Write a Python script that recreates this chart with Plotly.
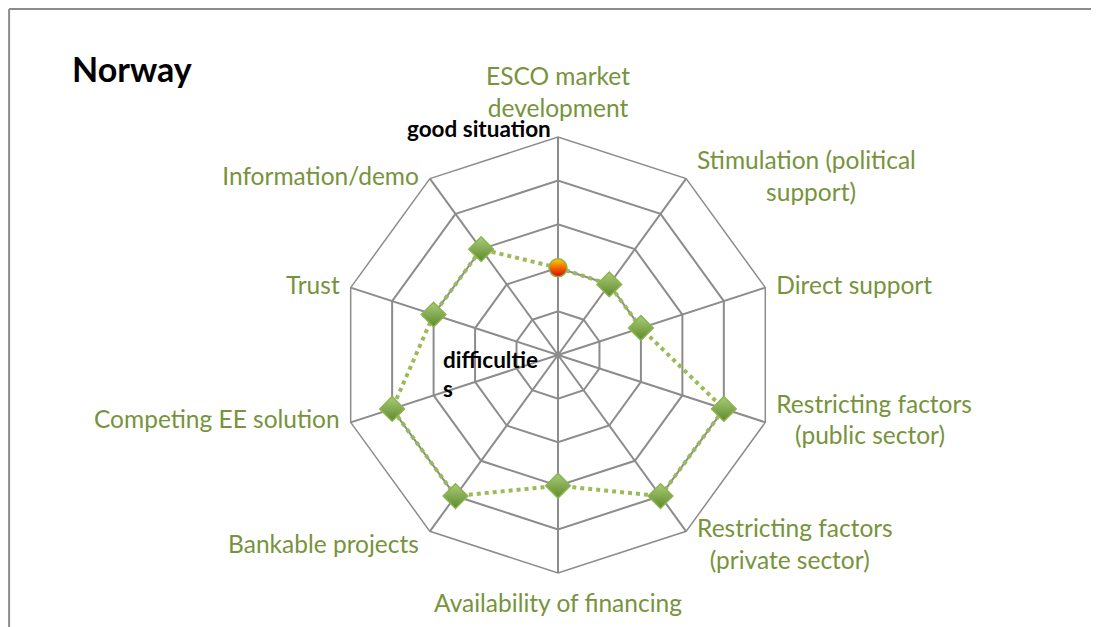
import plotly.graph_objects as go

NB = '\u00a0'

# axes of the radar, clockwise from the top
categories = [
    'ESCO market development',
    'Stimulation (political support)',
    'Direct support',
    'Restricting factors (public sector)',
    'Restricting factors (private sector)',
    'Availability of financing',
    'Bankable projects',
    'Competing EE solution',
    'Trust',
    'Information/demo',
]
# the labels as wrapped in the original chart
axis_labels = [
    'ESCO market<br>development',
    'Stimulation (political<br>' + NB * 11 + 'support)',
    'Direct support',
    'Restricting factors<br>' + NB * 3 + '(public sector)',
    '<br>Restricting factors<br>' + NB * 2 + '(private sector)',
    'Availability of financing',
    '<br>Bankable projects',
    'Competing EE solution',
    'Trust',
    'Information/demo',
]
scores = [2, 2, 2, 4, 4, 3, 4, 4, 3, 3]
r_max = 5

GREEN_TEXT = '#77933C'
GRID = '#8C8C8C'
FONT = 'Lato, Open Sans, sans-serif'

# first point is highlighted as a red/orange ball, the rest green diamonds
symbols = ['circle'] + ['diamond'] * (len(scores) - 1)
colors = ['#FFD000'] + ['#A9CC7A'] * (len(scores) - 1)
grad_colors = ['#E00000'] + ['#5E8A2A'] * (len(scores) - 1)
sizes = [18] + [19] * (len(scores) - 1)

# label placement around the outer ring; the invisible marker size sets the gap
label_pos = ['top center', 'middle right', 'middle right', 'middle right', 'middle right',
             'bottom center', 'middle left', 'middle left', 'middle left', 'middle left']
label_gap = [21, 16, 16, 16, 16, 32, 16, 16, 16, 16]

fig = go.Figure()

# dotted line, closed back to the first axis
fig.add_trace(go.Scatterpolar(
    r=scores + scores[:1],
    theta=categories + categories[:1],
    mode='lines',
    line=dict(color='#9BBB59', width=4, dash='dot'),
    hoverinfo='skip',
))
fig.add_trace(go.Scatterpolar(
    r=scores,
    theta=categories,
    mode='markers',
    marker=dict(
        symbol=symbols,
        size=sizes,
        color=colors,
        opacity=1,
        gradient=dict(type='vertical', color=grad_colors),
        line=dict(color='#8DB34E', width=1.5),
    ),
))

# category labels at the outer ring
fig.add_trace(go.Scatterpolar(
    r=[r_max] * len(categories),
    theta=categories,
    mode='markers+text',
    text=axis_labels,
    textposition=label_pos,
    textfont=dict(size=24.5, color=GREEN_TEXT, family=FONT),
    marker=dict(size=label_gap, opacity=0),
    cliponaxis=False,
    hoverinfo='skip',
))

fig.update_layout(
    width=1099,
    height=627,
    margin=dict(l=0, r=0, t=0, b=0),
    paper_bgcolor='white',
    plot_bgcolor='white',
    showlegend=False,
    font=dict(family=FONT),
    polar=dict(
        domain=dict(x=[0.3021, 0.6988], y=[0.0989, 0.7943]),
        gridshape='linear',
        bgcolor='white',
        radialaxis=dict(
            range=[0, r_max], dtick=1, showticklabels=False, ticks='',
            showline=False, gridcolor=GRID, gridwidth=1.5,
        ),
        angularaxis=dict(
            rotation=90, direction='clockwise',
            showline=True, linecolor=GRID, linewidth=1.5,
            gridcolor=GRID, gridwidth=1.5, ticks='', showticklabels=False,
        ),
    ),
)

# title and axis-end notes
fig.add_annotation(x=0.0564, y=0.9043, xref='paper', yref='paper', text='<b>Norway</b>',
                   showarrow=False, xanchor='left', yanchor='middle',
                   font=dict(size=34, color='black', family=FONT))
fig.add_annotation(x=0.3612, y=0.8086, xref='paper', yref='paper', text='<b>good situation</b>',
                   showarrow=False, xanchor='left', yanchor='middle',
                   font=dict(size=22.5, color='black', family=FONT))
fig.add_annotation(x=0.394, y=0.4163, xref='paper', yref='paper', text='<b>difficultie<br>s</b>',
                   showarrow=False, xanchor='left', yanchor='middle', align='left',
                   font=dict(size=22.5, color='black', family=FONT))

# frame of the original chart area (top and left edges)
fig.add_shape(type='line', xref='paper', yref='paper', x0=0.001, y0=0.9984, x1=1.02, y1=0.9984,
              line=dict(color='#8C8C8C', width=2))
fig.add_shape(type='line', xref='paper', yref='paper', x0=0.001, y0=0.9984, x1=0.001, y1=-0.02,
              line=dict(color='#8C8C8C', width=2))

fig.write_html('out.html')
